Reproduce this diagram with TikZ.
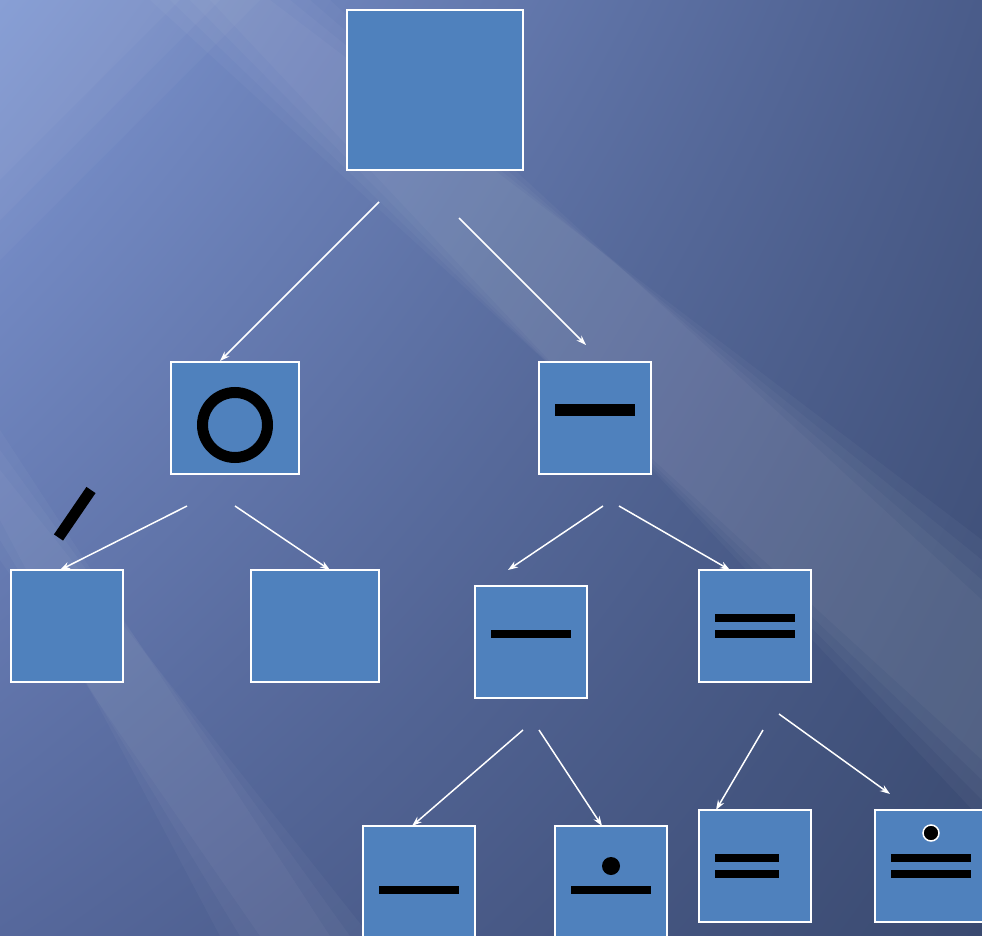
\documentclass[tikz,border=0pt]{standalone}
\usetikzlibrary{arrows.meta,shadings}
\definecolor{boxblue}{RGB}{79,129,189}
\definecolor{bgTL}{RGB}{126,150,210}
\definecolor{bgTR}{RGB}{74,92,138}
\definecolor{bgBL}{RGB}{86,104,156}
\definecolor{bgBR}{RGB}{58,74,112}
\tikzset{
  box/.style={draw=white, line width=2pt, fill=boxblue, rectangle, inner sep=0pt},
  sq/.style={box, minimum width=112pt, minimum height=112pt},
  link/.style={draw=white, line width=1.5pt, -{Stealth[length=10pt,width=7pt]}},
  glow/.style={fill=white, opacity=0.03}
}
\begin{document}
\begin{tikzpicture}[x=1pt,y=-1pt]
\clip (0,0) rectangle (982,936);
\useasboundingbox (0,0) rectangle (982,936);
% background
\shade[upper left=bgTL, upper right=bgTR, lower left=bgBL, lower right=bgBR] (0,0) rectangle (982,936);
\foreach \d in {0,20,40,60} {
  \fill[glow] (150+\d,0) -- (330-\d,0) -- (982,600-\d) -- (982,760+\d) -- cycle;
}
\foreach \d in {0,40,80} {
  \fill[glow] (0,0) -- (260-\d,0) -- (0,260-\d) -- cycle;
}
\foreach \d in {0,20,40} {
  \fill[glow] (0,430+\d) -- (0,560-\d) -- (260-\d,936) -- (330+\d,936) -- cycle;
}
% boxes
\node[box, minimum width=176pt, minimum height=160pt] (top) at (435,90) {};
\node[box, minimum width=128pt, minimum height=112pt] (o) at (235,418) {};
\node[sq] (m) at (595,418) {};
\node[sq] (ll) at (67,626) {};
\node[box, minimum width=128pt, minimum height=112pt] (lr) at (315,626) {};
\node[sq] (mm) at (531,642) {};
\node[sq] (eq) at (755,626) {};
\node[sq] (b1) at (419,882) {};
\node[sq] (b2) at (611,882) {};
\node[sq] (b3) at (755,866) {};
\node[sq] (b4) at (931,866) {};
% symbols
\draw[line width=11pt] (235,425) circle[radius=32.5];
\fill (555,404) rectangle (635,416);
\draw[line width=11pt] (91,490) -- (58.5,537.5);
\fill (491,630) rectangle (571,638);
\fill (715,614) rectangle (795,622);
\fill (715,630) rectangle (795,638);
\fill (379,886) rectangle (459,894);
\fill (611,866) circle[radius=9];
\fill (571,886) rectangle (651,894);
\fill (715,854) rectangle (779,862);
\fill (715,870) rectangle (779,878);
\draw[fill=black, draw=white, line width=1.5pt] (931,833) circle[radius=8];
\fill (891,854) rectangle (971,862);
\fill (891,870) rectangle (971,878);
% connector ends
\coordinate (a1s) at (379,202); \coordinate (a1e) at (220,361);
\coordinate (a2s) at (459,218); \coordinate (a2e) at (586,345);
\coordinate (a3s) at (187,506); \coordinate (a3e) at (60,570);
\coordinate (a4s) at (235,506); \coordinate (a4e) at (330,570);
\coordinate (a5s) at (603,506); \coordinate (a5e) at (508,570);
\coordinate (a6s) at (619,506); \coordinate (a6e) at (730,570);
\coordinate (a7s) at (523,730); \coordinate (a7e) at (412,826);
\coordinate (a8s) at (539,730); \coordinate (a8e) at (602,826);
\coordinate (a9s) at (763,730); \coordinate (a9e) at (716,810);
\coordinate (a10s) at (779,714); \coordinate (a10e) at (890,794);
\foreach \i in {1,...,10} { \draw[link] (a\i s) -- (a\i e); }
\end{tikzpicture}
\end{document}
